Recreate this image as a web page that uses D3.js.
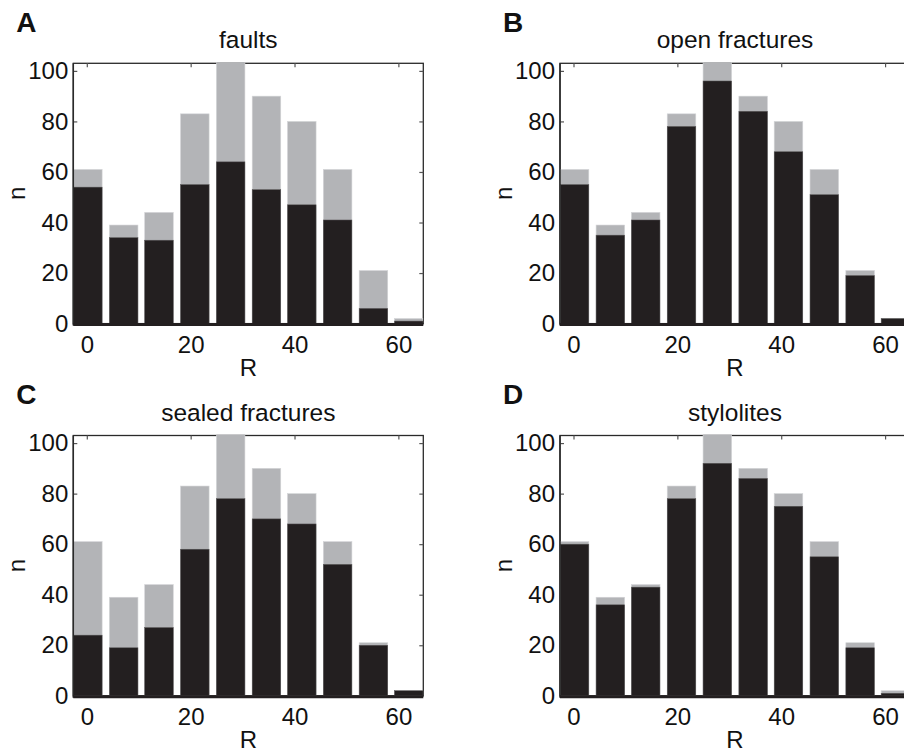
<!DOCTYPE html>
<html>
<head>
<meta charset="utf-8">
<script src="https://cdn.jsdelivr.net/npm/d3@7"></script>
<style>
  html, body { margin: 0; padding: 0; background: #fff; overflow: hidden; }
  svg { display: block; }
  text { font-family: "Liberation Sans", Arial, Helvetica, sans-serif; fill: #111; }
</style>
</head>
<body>
<div id="chart"></div>
<script>
// ---- data ----
const binCenters = [0.2, 7.1, 13.9, 20.8, 27.7, 34.6, 41.4, 48.3, 55.2, 62.0];
const totalCounts = [61, 39, 44, 83, 106, 90, 80, 61, 21, 2];
const faults = [54, 34, 33, 55, 64, 53, 47, 41, 6, 1];
const openFractures = [55, 35, 41, 78, 96, 84, 68, 51, 19, 2];
const sealedFractures = [24, 19, 27, 58, 78, 70, 68, 52, 20, 2];
const stylolites = [60, 36, 43, 78, 92, 86, 75, 55, 19, 1];
const panelTitles = ["faults", "open fractures", "sealed fractures", "stylolites"];
const panelLetters = ["A", "B", "C", "D"];
const yTickValues = [0, 20, 40, 60, 80, 100];
const xTickValues = [0, 20, 40, 60];
const barWidthR = 5.5;
const xDomain = [-2.6, 64.8];
const yDomain = [0, 103];

const seriesList = [faults, openFractures, sealedFractures, stylolites];

const W = 904, H = 752;
const pw = 350, ph = 260.3;
const origins = [[73.3, 63.3], [560, 63.3], [73.3, 435.5], [560, 435.5]];
const BLACK = "#231f20", GRAY = "#b3b4b7", AXIS = "#2a2a2a";

const svg = d3.select("#chart").append("svg").attr("width", W).attr("height", H);

const x = d3.scaleLinear().domain(xDomain).range([0, pw]);
const y = d3.scaleLinear().domain(yDomain).range([ph, 0]);

seriesList.forEach((vals, i) => {
  const [ox, oy] = origins[i];
  const g = svg.append("g").attr("transform", `translate(${ox},${oy})`);

  g.append("clipPath").attr("id", "clip" + i)
    .append("rect").attr("x", 0).attr("y", -1).attr("width", pw).attr("height", ph + 2);

  // box
  g.append("rect").attr("x", 0).attr("y", 0).attr("width", pw).attr("height", ph)
    .attr("fill", "none").attr("stroke", AXIS).attr("stroke-width", 1.3);

  // ticks (inward) top and right, left with labels
  const yl = g.append("g").call(d3.axisLeft(y).tickValues(yTickValues).tickSizeInner(-4).tickSizeOuter(0).tickPadding(5));
  const yr = g.append("g").attr("transform", `translate(${pw},0)`)
    .call(d3.axisRight(y).tickValues(yTickValues).tickSizeInner(-4).tickSizeOuter(0).tickFormat(""));
  const xt = g.append("g").call(d3.axisTop(x).tickValues(xTickValues).tickSizeInner(-4).tickSizeOuter(0).tickFormat(""));
  [yl, yr, xt].forEach(a => {
    a.select(".domain").remove();
    a.selectAll(".tick line").attr("stroke", "#555").attr("stroke-width", 1.2);
  });
  yl.selectAll("text").attr("font-size", 24).attr("fill", "#111")
    .attr("font-family", "Liberation Sans, Arial, sans-serif");

  // bars
  const bars = g.append("g").attr("clip-path", `url(#clip${i})`);
  bars.selectAll("rect.total").data(binCenters.map((c, k) => ({c, v: totalCounts[k]})))
    .join("rect").attr("class", "total")
    .attr("x", d => x(d.c - barWidthR / 2))
    .attr("width", d => x(d.c + barWidthR / 2) - x(d.c - barWidthR / 2))
    .attr("y", d => y(d.v))
    .attr("height", d => y(0) - y(d.v))
    .attr("fill", GRAY).attr("stroke", "#d4d5d7").attr("stroke-width", 0.6);
  bars.selectAll("rect.sub").data(binCenters.map((c, k) => ({c, v: vals[k]})))
    .join("rect").attr("class", "sub")
    .attr("x", d => x(d.c - barWidthR / 2))
    .attr("width", d => x(d.c + barWidthR / 2) - x(d.c - barWidthR / 2))
    .attr("y", d => y(d.v))
    .attr("height", d => y(0) - y(d.v))
    .attr("fill", BLACK).attr("stroke", "#5a5859").attr("stroke-width", 0.5);

  // left axis line
  g.append("line").attr("x1", 0).attr("x2", 0).attr("y1", 0).attr("y2", ph + 2)
    .attr("stroke", AXIS).attr("stroke-width", 1.5);

  // bottom axis (thick) with labels
  const xb = g.append("g").attr("transform", `translate(0,${ph})`)
    .call(d3.axisBottom(x).tickValues(xTickValues).tickSize(0).tickPadding(12));
  xb.select(".domain").remove();
  xb.selectAll("text").attr("font-size", 24).attr("fill", "#111")
    .attr("font-family", "Liberation Sans, Arial, sans-serif");
  g.append("line").attr("x1", 0).attr("x2", pw).attr("y1", ph + 1).attr("y2", ph + 1)
    .attr("stroke", BLACK).attr("stroke-width", 3);

  // title
  g.append("text").attr("x", pw / 2).attr("y", -15).attr("text-anchor", "middle")
    .attr("font-size", 24.5).text(panelTitles[i]);
  // axis labels
  g.append("text").attr("x", pw / 2).attr("y", ph + 52.5).attr("text-anchor", "middle")
    .attr("font-size", 24).text("R");
  g.append("text").attr("transform", `translate(-48,${ph / 2}) rotate(-90)`)
    .attr("text-anchor", "middle").attr("font-size", 24).text("n");
  // panel letter
  g.append("text").attr("x", -57).attr("y", -31.5).attr("font-size", 28)
    .attr("font-weight", "bold").text(panelLetters[i]);
});
</script>
</body>
</html>
